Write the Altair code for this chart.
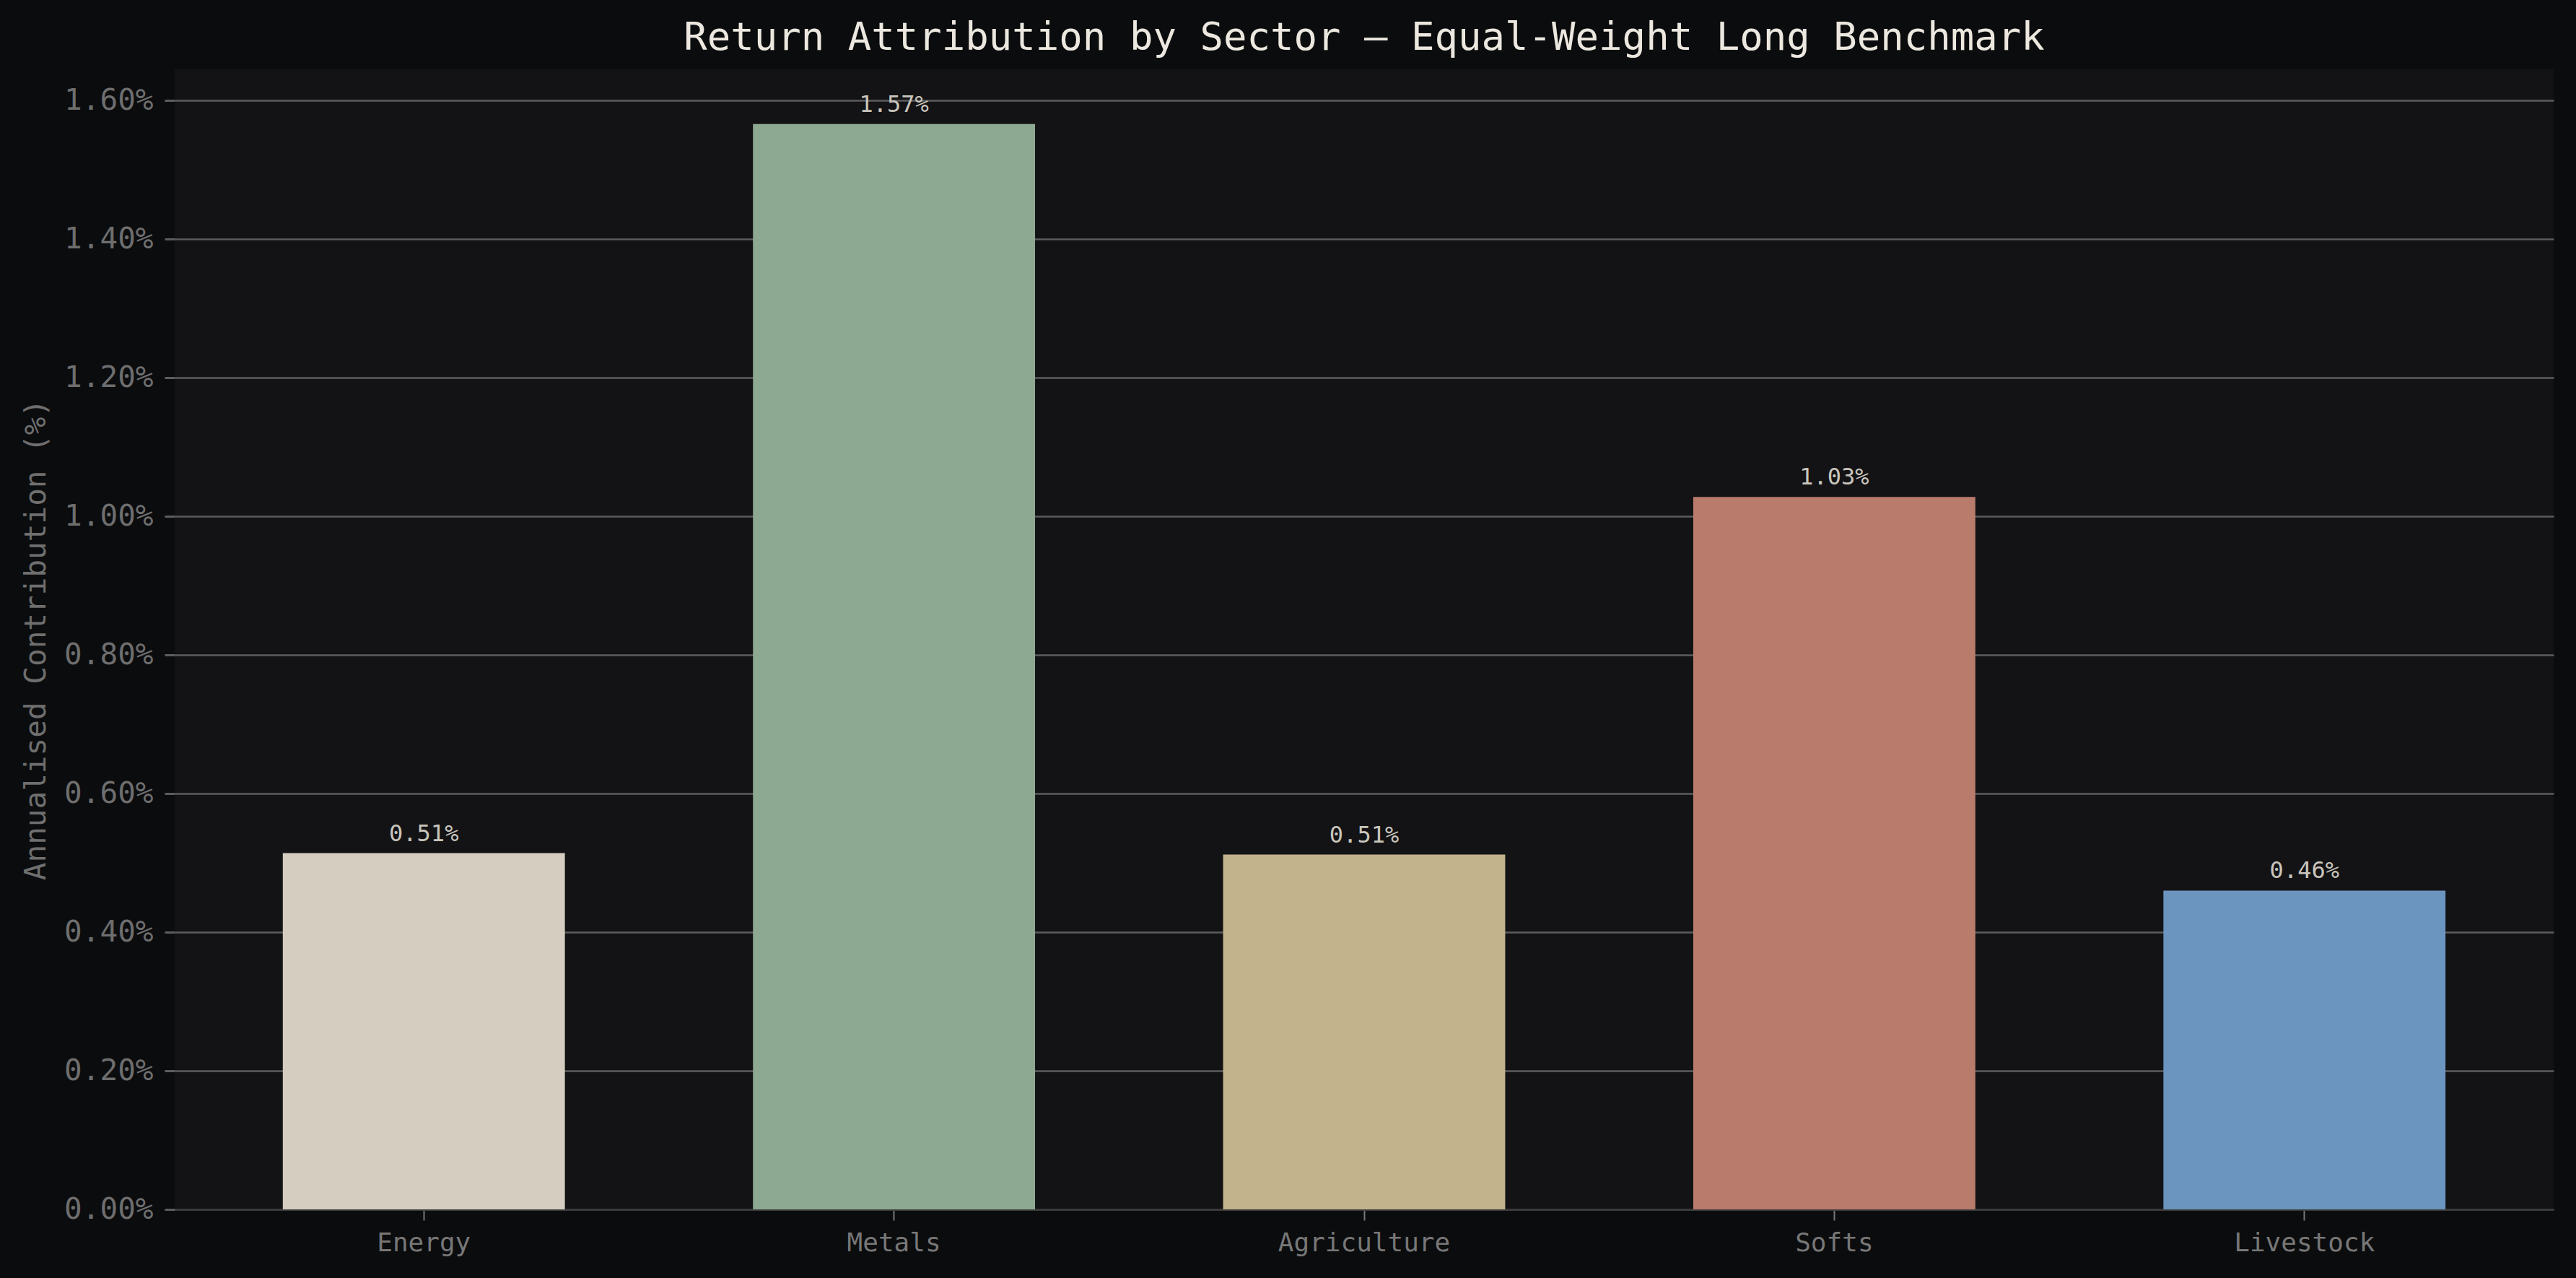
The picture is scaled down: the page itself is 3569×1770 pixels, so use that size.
import altair as alt
import pandas as pd

sectors = ["Energy", "Metals", "Agriculture", "Softs", "Livestock"]
contrib = [0.514, 1.566, 0.512, 1.028, 0.460]
colors = ["#d5cdc0", "#8ea992", "#c3b38c", "#b87b6c", "#6b95bf"]
labels = ["0.51%", "1.57%", "0.51%", "1.03%", "0.46%"]

df = pd.DataFrame({"sector": sectors, "value": contrib, "label": labels, "color": colors})

FONT = "DejaVu Sans Mono"

x = alt.X("sector:N", sort=sectors,
          scale=alt.Scale(paddingInner=0.4, paddingOuter=0.23),
          axis=alt.Axis(title=None, labelAngle=0, labelFont=FONT, labelFontSize=36,
                        labelColor="#777777", tickColor="#777777", tickSize=15, tickWidth=2,
                        labelPadding=14, labelLimit=0, domainColor="#3a3a3a", domainWidth=3, grid=False))
y = alt.Y("value:Q", scale=alt.Scale(domain=[0, 1.645], nice=False, zero=True),
          axis=alt.Axis(title="Annualised Contribution (%)", titleFont=FONT, titleFontSize=41,
                        titleFontWeight="normal", titleColor="#6f6f6f", titlePadding=17,
                        labelFont=FONT, labelFontSize=41, labelColor="#6e6e6e",
                        values=[0, 0.2, 0.4, 0.6, 0.8, 1.0, 1.2, 1.4, 1.6],
                        labelExpr="format(datum.value, '.2f') + '%'",
                        tickColor="#5d5d5d", tickSize=14, tickWidth=3, labelPadding=16,
                        grid=True, gridColor="#5d5d5d", gridWidth=2.5, domain=False))

bars = alt.Chart(df).mark_bar().encode(
    x=x, y=y, color=alt.Color("color:N", scale=None)
)
text = alt.Chart(df).mark_text(font=FONT, fontSize=32, color="#c9c5bc", baseline="bottom", dy=-10).encode(
    x=alt.X("sector:N", sort=sectors), y="value:Q", text="label:N"
)

chart = (bars + text).properties(
    width=3296, height=1579,
    background="#0b0c0e",
    padding={"left": 242, "top": 96, "right": 31, "bottom": 95},
    autosize=alt.AutoSizeParams(type="none"),
    title=alt.TitleParams("Return Attribution by Sector \u2014 Equal-Weight Long Benchmark",
                          font=FONT, fontSize=54, fontWeight="normal", color="#ece8e0",
                          anchor="middle", offset=16),
).configure_view(fill="#131315", stroke=None)

chart.save("out.html", embed_options={"renderer": "svg", "actions": False})
